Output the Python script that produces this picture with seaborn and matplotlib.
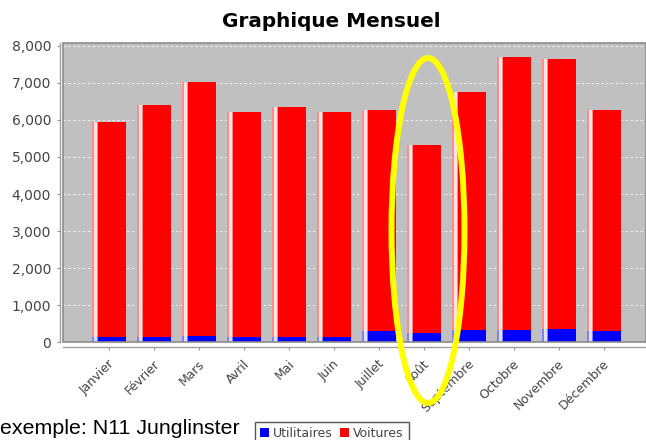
import numpy as np
import matplotlib
matplotlib.use("Agg")
import matplotlib.pyplot as plt
from matplotlib.patches import Ellipse, Patch
from matplotlib.transforms import ScaledTranslation
from matplotlib.ticker import FuncFormatter, MultipleLocator
import seaborn as sns

months = ["Janvier", "Février", "Mars", "Avril", "Mai", "Juin", "Juillet",
          "Août", "Septembre", "Octobre", "Novembre", "Décembre"]
utilitaires = [135, 135, 170, 135, 135, 135, 315, 260, 340, 340, 360, 305]
voitures = [5805, 6265, 6850, 6065, 6205, 6065, 5955, 5060, 6410, 7360, 7280, 5965]
title = "Graphique Mensuel"
footer = "exemple: N11 Junglinster"

sns.set_theme(style="white")
plt.rcParams['font.family'] = ['DejaVu Sans']

W, H, DPI = 646, 440, 100
fig = plt.figure(figsize=(W / DPI, H / DPI), dpi=DPI)
ax = fig.add_axes([62.7 / W, 1 - 342.3 / H, (W - 62.7) / W, (342.3 - 42.7) / H])
ax.set_facecolor("#c0c0c0")

util = np.array(utilitaires)
totals = util + np.array(voitures)
bw = 0.76
sns.barplot(x=months, y=totals, color="#ff0000", saturation=1, width=bw,
            linewidth=0, ax=ax, zorder=2)
sns.barplot(x=months, y=utilitaires, color="#0000ff", saturation=1, width=bw,
            linewidth=0, ax=ax, zorder=3)

# gradient highlight stripe near the left edge of each bar
px = 1 / 45.0
xs = np.arange(len(months))
left = xs - bw / 2
ax.bar(left + 0.8 * px, totals - util, bottom=util, width=6 * px, align="edge",
       color="#ff8c8c", linewidth=0, zorder=4)
ax.bar(left + 2.4 * px, totals - util, bottom=util, width=2.8 * px, align="edge",
       color="#ffe4e4", linewidth=0, zorder=5)
ax.bar(left + 0.8 * px, util, width=6 * px, align="edge",
       color="#8080ff", linewidth=0, zorder=4)
ax.bar(left + 2.4 * px, util, width=2.8 * px, align="edge",
       color="#e0e0ff", linewidth=0, zorder=5)

ax.set_xlim(-1.024, 11.94)
ax.set_ylim(0, 8081)
ax.yaxis.set_major_locator(MultipleLocator(1000))
ax.yaxis.set_major_formatter(FuncFormatter(lambda v, p: f"{v:,.0f}"))
ax.set_xlabel("")
ax.set_ylabel("")

ax.yaxis.grid(True, color="#ececec", linestyle=(0, (2.2, 2.2)), linewidth=0.8, zorder=1)
ax.xaxis.grid(False)
ax.set_axisbelow(True)

for s in ["top", "right"]:
    ax.spines[s].set_visible(False)
ax.spines["left"].set_position(("outward", 2.3))
ax.spines["bottom"].set_position(("outward", 3.2))
for s in ["left", "bottom"]:
    ax.spines[s].set_color("#a0a0a0")
    ax.spines[s].set_linewidth(1.0)

# plot area border
ax.add_patch(plt.Rectangle((0, 0), 1, 1, transform=ax.transAxes, fill=False,
                           edgecolor="#8c8c8c", linewidth=1.2, zorder=6, clip_on=False))

ax.tick_params(axis="y", length=2.5, width=0.8, color="#909090", pad=3.5,
               labelsize=10, labelcolor="#444444", left=True)
ax.tick_params(axis="x", length=2, width=0.8, color="#909090", pad=2,
               labelsize=9, labelcolor="#444444", bottom=True)
for lab in ax.get_xticklabels():
    lab.set_rotation(45)
    lab.set_ha("right")
    lab.set_va("top")
    lab.set_rotation_mode("anchor")
    lab.set_transform(lab.get_transform() + ScaledTranslation(-1 / DPI, -5 / DPI, fig.dpi_scale_trans))

fig.text(331 / W, 1 - 26.7 / H, title, ha="center", va="baseline",
         fontsize=14.4, fontweight="bold", color="#000000")
fig.text(0.5 / W, 1 - 434 / H, footer, ha="left", va="baseline",
         fontsize=15.4, family=["Liberation Sans"], color="#000000")

handles = [Patch(facecolor="#0000ff", edgecolor="none", label="Utilitaires"),
           Patch(facecolor="#ff0000", edgecolor="none", label="Voitures")]
leg = fig.legend(handles=handles, loc="upper center", bbox_to_anchor=(331.5 / W, 1 - 422 / H),
                 ncol=2, fontsize=9, frameon=True, fancybox=False, framealpha=1,
                 edgecolor="#555555", borderpad=0.4, handlelength=0.75, handleheight=0.75,
                 handletextpad=0.3, columnspacing=0.6, borderaxespad=0)
leg.get_frame().set_linewidth(1.0)
for t in leg.get_texts():
    t.set_color("#444444")

ell = Ellipse((428 / W, 1 - 230.5 / H), 73 / W, 345 / H, transform=fig.transFigure,
              fill=False, edgecolor="#ffff00", linewidth=4.3, zorder=10)
fig.add_artist(ell)

fig.savefig("out.png", dpi=DPI)
